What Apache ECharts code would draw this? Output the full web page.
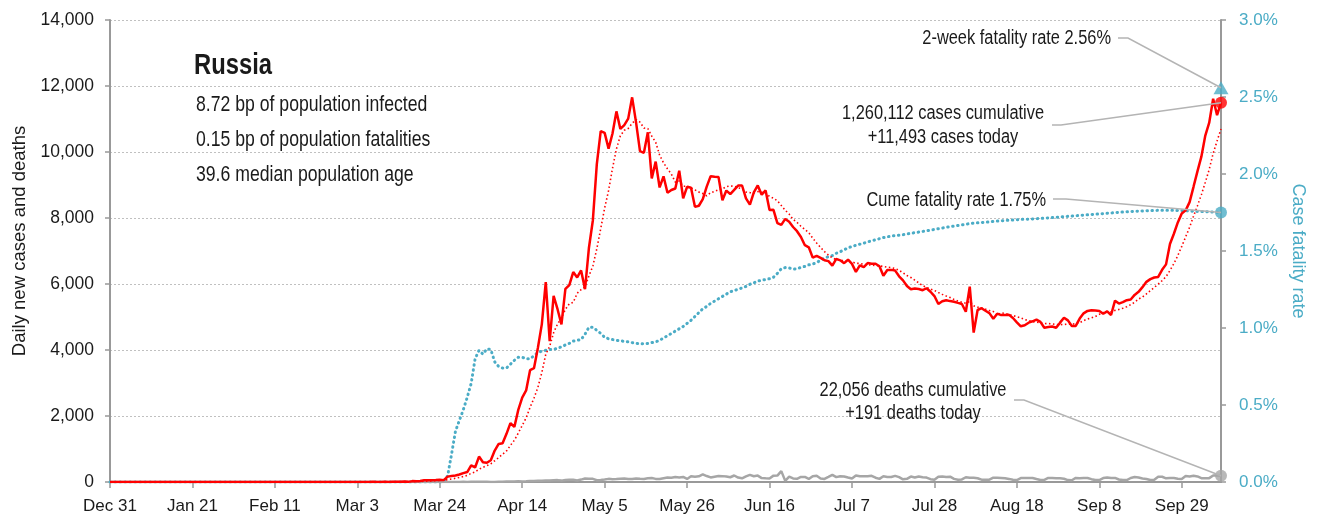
<!DOCTYPE html>
<html>
<head>
<meta charset="utf-8">
<script src="https://cdn.jsdelivr.net/npm/echarts@6/dist/echarts.min.js"></script>
<style>
  html,body{margin:0;padding:0;background:#fff;}
  #c{width:1319px;height:522px;}
</style>
</head>
<body>
<div id="c"></div>
<script>
// ---------- DATA (as reported, one value per day; plotted on the following day) ----------
const tickLabels = ['Dec 31','Jan 21','Feb 11','Mar 3','Mar 24','Apr 14','May 5','May 26','Jun 16','Jul 7','Jul 28','Aug 18','Sep 8','Sep 29'];

const casesDec = [0, 0];
const casesJan = [0,0,0,0,0,0,0,0,0,0,0,0,0,0,0,0,0,0,0,0,0,0,0,0,0,0,0,0,0,0,2];
const casesFeb = [0,0,0,0,0,0,0,0,0,0,0,0,0,0,0,0,0,0,0,0,0,0,0,0,0,0,0,0,0];
const casesMar = [0,1,0,0,1,6,3,0,4,3,8,6,11,14,4,27,24,33,52,54,53,61,71,57,163,182,196,228,270,302,501];
const casesApr = [440,771,601,582,658,954,1154,1175,1459,1786,1667,2186,2558,2774,3388,3448,4070,4785,6060,4268,5642,5236,4774,5849,5966,6361,6198,6411,5841,7099];
const casesMay = [7933,9623,10633,10581,10102,10559,11231,10699,10817,11012,11656,10899,10028,9974,10598,9200,9709,8926,9263,8764,8849,8894,9434,8599,8946,8915,8338,8371,8572,8952,9268];
const casesJun = [9250,9245,8536,8831,8726,8855,8984,8985,8595,8404,8779,8987,8706,8835,8246,8248,7843,7790,7972,7889,7728,7600,7425,7176,7113,6800,6852,6791,6719,6693];
const casesJul = [6556,6760,6718,6632,6736,6611,6368,6562,6509,6635,6611,6615,6537,6248,6422,6428,6406,6234,6109,5940,5842,5862,5848,5811,5871,5765,5635,5395,5475,5509,5482];
const casesAug = [5462,5427,5394,5159,5918,4527,5212,5267,5189,5118,4945,5102,5057,5061,5065,4969,4839,4718,4748,4828,4870,4921,4852,4676,4696,4711,4676,4829,4980,4897,4729];
const casesSep = [4729,4952,5110,5185,5205,5195,5185,5099,5172,5060,5494,5406,5449,5509,5529,5670,5762,5905,6065,6148,6196,6215,6431,6595,7212,7523,7867,8135,8232,8481];
const casesOct = [8945,9412,9859,10499,10888,11615,11115,11493];

const deathsDec = [0, 0];
const deathsJan = [0,0,0,0,0,0,0,0,0,0,0,0,0,0,0,0,0,0,0,0,0,0,0,0,0,0,0,0,0,0,0];
const deathsFeb = [0,0,0,0,0,0,0,0,0,0,0,0,0,0,0,0,0,0,0,0,0,0,0,0,0,0,0,0,0];
const deathsMar = [0,0,0,0,0,0,0,0,0,0,0,0,0,0,0,0,0,0,1,0,0,0,0,0,1,1,1,0,4,1,8];
const deathsApr = [7,6,4,9,2,2,11,5,13,18,12,24,18,22,28,34,41,40,48,44,51,57,42,60,66,66,47,73,105,101];
const deathsMay = [96,53,58,76,95,86,88,98,104,88,94,107,96,93,113,119,94,91,115,135,127,150,139,153,92,174,161,174,232,181,138];
const deathsJun = [162,182,178,169,144,197,134,112,171,216,174,194,119,113,109,193,194,330,35,161,109,95,153,154,92,176,188,104,93,154];
const deathsJul = [216,147,176,168,135,104,198,173,175,174,188,130,95,175,153,150,186,146,80,95,165,139,169,147,133,85,70,161,169,150,161];
const deathsAug = [95,70,77,144,130,129,114,70,70,70,130,129,124,114,94,68,60,119,121,119,121,90,60,61,122,120,117,113,98,57,54];
const deathsSep = [123,117,120,121,86,58,57,118,135,119,124,75,59,57,122,150,136,105,93,61,67,160,160,111,122,122,99,90,180,169];
const deathsOct = [186,169,117,115,117,198,201,191];

// cumulative case fatality rate, percent (right axis)
const cfrDec = [0, 0];
const cfrJan = [0,0,0,0,0,0,0,0,0,0,0,0,0,0,0,0,0,0,0,0,0,0,0,0,0,0,0,0,0,0,0];
const cfrFeb = [0,0,0,0,0,0,0,0,0,0,0,0,0,0,0,0,0,0,0,0,0,0,0,0,0,0,0,0,0];
const cfrMar = [0,0,0,0,0,0,0,0,0,0,0,0,0,0,0,0,0,0,0,0,0,0,0,0,0.04,0.18,0.33,0.40,0.47,0.55,0.64];
const cfrApr = [0.80,0.855,0.83,0.865,0.86,0.78,0.75,0.74,0.74,0.765,0.79,0.81,0.81,0.80,0.80,0.82,0.84,0.85,0.855,0.86,0.862,0.868,0.878,0.89,0.90,0.915,0.92,0.925,0.96,1.005];
const cfrMay = [1.005,0.985,0.965,0.94,0.93,0.925,0.92,0.917,0.913,0.91,0.905,0.90,0.898,0.897,0.90,0.905,0.91,0.92,0.935,0.95,0.965,0.98,0.995,1.01,1.03,1.05,1.075,1.10,1.125,1.14,1.16];
const cfrJun = [1.175,1.19,1.205,1.22,1.235,1.243,1.252,1.26,1.27,1.284,1.293,1.305,1.31,1.315,1.32,1.33,1.355,1.385,1.392,1.39,1.382,1.385,1.394,1.40,1.41,1.415,1.425,1.44,1.455,1.463];
const cfrJul = [1.47,1.485,1.495,1.508,1.52,1.53,1.537,1.544,1.551,1.559,1.566,1.573,1.58,1.587,1.592,1.597,1.60,1.603,1.606,1.611,1.615,1.619,1.623,1.627,1.631,1.635,1.64,1.645,1.649,1.654,1.658];
const cfrAug = [1.662,1.666,1.67,1.674,1.678,1.681,1.683,1.685,1.687,1.689,1.692,1.694,1.696,1.698,1.70,1.701,1.703,1.705,1.706,1.707,1.708,1.71,1.711,1.713,1.715,1.717,1.719,1.721,1.723,1.725,1.727];
const cfrSep = [1.729,1.731,1.733,1.735,1.737,1.739,1.741,1.743,1.745,1.747,1.749,1.751,1.753,1.755,1.756,1.758,1.759,1.76,1.761,1.762,1.763,1.764,1.764,1.764,1.764,1.764,1.763,1.762,1.761,1.76];
const cfrOct = [1.758,1.757,1.756,1.755,1.754,1.753,1.752,1.75];

const twoWeekCFR = 2.56;
const titleText = 'Russia';
const infoLines = ['8.72 bp of population infected','0.15 bp of population fatalities','39.6 median population age'];
const noteTwoWeek = '2-week fatality rate 2.56%';
const noteCases = ['1,260,112 cases cumulative','+11,493 cases today'];
const noteCume = 'Cume fatality rate 1.75%';
const noteDeaths = ['22,056 deaths cumulative','+191 deaths today'];

// ---------- BUILD ----------
const cases = [].concat(casesDec,casesJan,casesFeb,casesMar,casesApr,casesMay,casesJun,casesJul,casesAug,casesSep,casesOct);
const deaths = [].concat(deathsDec,deathsJan,deathsFeb,deathsMar,deathsApr,deathsMay,deathsJun,deathsJul,deathsAug,deathsSep,deathsOct);
const cfr = [].concat(cfrDec,cfrJan,cfrFeb,cfrMar,cfrApr,cfrMay,cfrJun,cfrJul,cfrAug,cfrSep,cfrOct);

// one category per plotted day starting Dec 31; every 21st carries a tick label
const cats = cases.map((_, i) => (i % 21 === 0 && tickLabels[i / 21]) ? tickLabels[i / 21] : 'd' + i);
const showTick = (i) => i % 21 === 0 && i / 21 < tickLabels.length;

// 7-day trailing mean of the daily cases (the chart's dotted trend)
const cases7 = cases.map((_, i) => { const s = cases.slice(Math.max(0, i - 6), i + 1); return s.reduce((a, b) => a + b, 0) / s.length; });

const last = cases.length - 1;
const FONT = '"Liberation Sans", Arial, sans-serif';
const RED = '#ff0000', CYAN = '#4bacc6', GREY = '#a6a6a6', AXIS = '#999999', TXT = '#1a1a1a';

const chart = echarts.init(document.getElementById('c'), null, {renderer: 'canvas'});
const option = {
  animation: false,
  grid: {left: 110, right: 98, top: 20, bottom: 40, containLabel: false},
  xAxis: {
    type: 'category', data: cats, boundaryGap: false,
    axisLine: {lineStyle: {color: AXIS, width: 2}},
    axisTick: {show: true, interval: showTick, length: 6, lineStyle: {color: AXIS, width: 1.5}},
    axisLabel: {interval: showTick, margin: 16, color: TXT, fontSize: 17, fontFamily: FONT},
    splitLine: {show: false}
  },
  yAxis: [
    {
      type: 'value', min: 0, max: 14000, interval: 2000, position: 'left',
      name: 'Daily new cases and deaths', nameLocation: 'middle', nameGap: 81,
      nameTextStyle: {color: TXT, fontSize: 18.5, fontFamily: FONT, padding: [0, 0, 0, 20]},
      axisLine: {show: true, lineStyle: {color: AXIS, width: 2}},
      axisTick: {show: true, length: 5, lineStyle: {color: AXIS, width: 1.5}},
      axisLabel: {formatter: v => v.toLocaleString('en-US'), margin: 16, color: TXT, fontSize: 17.5, fontFamily: FONT},
      splitLine: {show: true, lineStyle: {color: '#c0c0c0', type: [2, 2], width: 1}}
    },
    {
      type: 'value', min: 0, max: 3, interval: 0.5, position: 'right',
      name: 'Case fatality rate', nameLocation: 'middle', nameRotate: -90, nameGap: 59,
      nameTextStyle: {color: CYAN, fontSize: 18, fontFamily: FONT},
      axisLine: {show: true, lineStyle: {color: AXIS, width: 2}},
      axisTick: {show: true, length: 5, lineStyle: {color: AXIS, width: 1.5}},
      axisLabel: {formatter: v => v.toFixed(1) + '%', margin: 18, color: CYAN, fontSize: 17, fontFamily: FONT},
      splitLine: {show: false}
    }
  ],
  series: [
    {name: 'cfr', type: 'line', yAxisIndex: 1, data: cfr, symbol: 'none', z: 2,
     lineStyle: {color: CYAN, width: 3, type: [0.5, 4.5], cap: 'round'}},
    {name: 'deaths', type: 'line', yAxisIndex: 0, data: deaths, symbol: 'none', z: 3,
     lineStyle: {color: GREY, width: 2.5}},
    {name: 'cases7', type: 'line', yAxisIndex: 0, data: cases7, symbol: 'none', z: 4,
     lineStyle: {color: RED, width: 1.6, type: [1.5, 2.5]}},
    {name: 'cases', type: 'line', yAxisIndex: 0, data: cases, symbol: 'none', z: 5,
     lineStyle: {color: RED, width: 2.5}},
    {name: 'endDeaths', type: 'scatter', yAxisIndex: 0, data: [[last, deaths[last]]], symbol: 'circle', symbolSize: 12,
     itemStyle: {color: GREY}, z: 6},
    {name: 'endCases', type: 'scatter', yAxisIndex: 0, data: [[last, cases[last]]], symbol: 'circle', symbolSize: 12,
     itemStyle: {color: RED}, z: 7},
    {name: 'endCfr', type: 'scatter', yAxisIndex: 1, data: [[last, cfr[last]]], symbol: 'circle', symbolSize: 12,
     itemStyle: {color: CYAN}, z: 7},
    {name: 'twoWeek', type: 'scatter', yAxisIndex: 1, data: [[last, twoWeekCFR]], symbol: 'triangle', symbolSize: [15, 13],
     itemStyle: {color: CYAN}, z: 7}
  ]
};
chart.setOption(option);

// ---------- ANNOTATIONS ----------
const px = (v, axis) => chart.convertToPixel({xAxisIndex: 0, yAxisIndex: axis}, [last, v]);
const pCases = px(cases[last], 0), pDeaths = px(deaths[last], 0), pCfr = px(cfr[last], 1), pTri = px(twoWeekCFR, 1);

// condensed text (horizontal squeeze imitates the narrow face of the original)
function txt(text, x, y, size, align, weight) {
  return {type: 'text', x: x, y: y, scaleX: 0.82, z: 20,
    style: {text: text, x: 0, y: 0, fill: TXT, font: (weight || 'normal') + ' ' + size + 'px ' + FONT,
      textAlign: align, textVerticalAlign: 'middle', verticalAlign: 'middle'}};
}
function leader(points) {
  return {type: 'polyline', z: 15, shape: {points: points}, style: {stroke: '#b4b4b4', lineWidth: 1.5, fill: null}};
}
const g = [
  txt(titleText, 194, 66, 29, 'left', 'bold'),
  txt(infoLines[0], 196, 105, 21.5, 'left'),
  txt(infoLines[1], 196, 140, 21.5, 'left'),
  txt(infoLines[2], 196, 175, 21.5, 'left'),
  txt(noteTwoWeek, 1111, 38, 20, 'right'),
  leader([[1118, 38], [1128, 38], [pTri[0], pTri[1]]]),
  txt(noteCases[0], 943, 113, 20, 'center'),
  txt(noteCases[1], 943, 137, 20, 'center'),
  leader([[1052, 125], [1061, 125], [pCases[0], pCases[1]]]),
  txt(noteCume, 1046, 200, 20, 'right'),
  leader([[1053, 199], [1066, 199], [pCfr[0], pCfr[1]]]),
  txt(noteDeaths[0], 913, 390, 20, 'center'),
  txt(noteDeaths[1], 913, 413, 20, 'center'),
  leader([[1014, 400], [1024, 400], [pDeaths[0], pDeaths[1]]])
];
chart.setOption({graphic: g});
</script>
</body>
</html>
